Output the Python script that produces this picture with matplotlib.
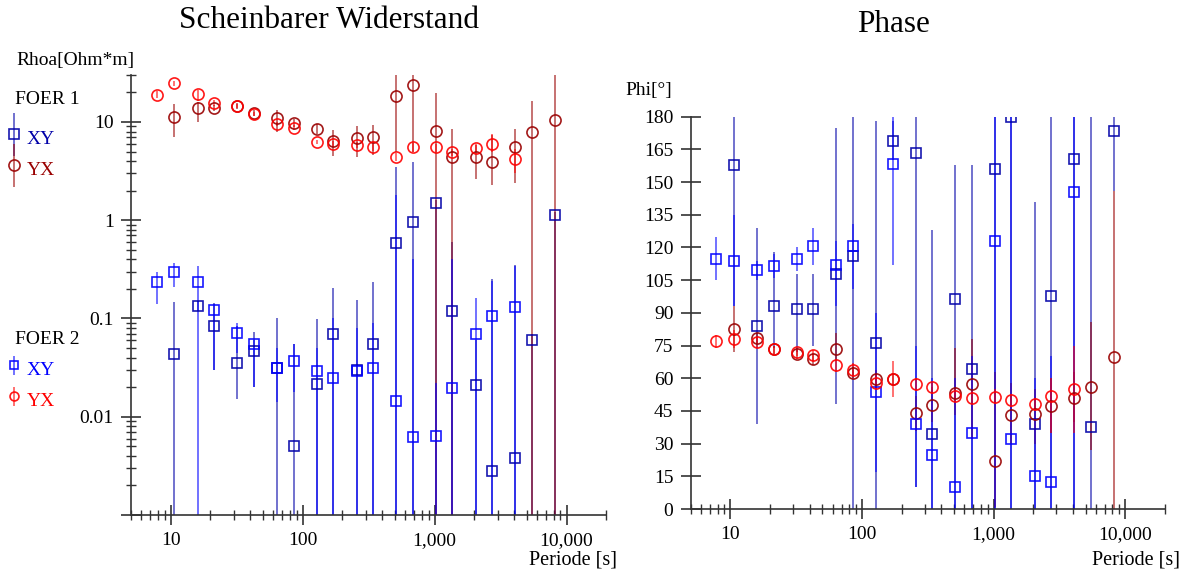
import matplotlib.pyplot as plt
import numpy as np
from matplotlib.ticker import FixedLocator, LogLocator, NullFormatter, FuncFormatter, MultipleLocator
from matplotlib.container import ErrorbarContainer
from matplotlib.legend_handler import HandlerErrorbar

plt.rcParams['font.family'] = ['Liberation Serif', 'DejaVu Serif']

# periods [s]
per1 = [10.67, 16, 21.33, 32, 42.67, 64, 85.33, 128, 170.67, 256, 341.33, 512,
        682.67, 1024, 1365.33, 2048, 2730.67, 4096, 5461.33, 8192]
per2 = [7.81, 10.67, 16, 21.33, 32, 42.67, 64, 85.33, 128, 170.67, 256, 341.33,
        512, 682.67, 1024, 1365.33, 2048, 2730.67, 4096]

# apparent resistivity, FOER 1
rho1_xy = [0.044, 0.133, 0.084, 0.0355, 0.047, 0.031, 0.005, 0.0215, 0.07, 0.03,
           0.055, 0.58, 0.95, 1.5, 0.12, 0.021, 0.0028, 0.0038, 0.061, 1.12]
rho1_xy_lo = [1e-5, 0.12, 0.03, 0.015, 0.02, 1e-5, 1e-5, 1e-5, 1e-5, 1e-5,
              1e-5, 1e-5, 1e-5, 1e-5, 1e-5, 1e-5, 1e-5, 1e-5, 1e-5, 1e-5]
rho1_xy_hi = [0.146, 0.15, 0.145, 0.084, 0.073, 0.1, 0.055, 0.098, 0.204, 0.156,
              0.234, 3.5, 3.9, 1.6, 0.6, 0.06, 0.25, 0.35, 0.07, 1.2]
rho1_yx = [11.2, 13.9, 13.8, 14.5, 12.3, 10.9, 9.7, 8.4, 6.4, 6.8, 7.0, 18.4, 24,
           8.1, 4.45, 4.35, 3.95, 5.5, 7.85, 10.5]
rho1_yx_lo = [7.0, 10.0, 12.8, 13.5, 11.5, 8.0, 8.8, 7.5, 4.5, 4.4, 4.6, 5.0, 5.0,
              1e-5, 1e-5, 2.6, 2.3, 2.4, 1e-5, 1e-5]
rho1_yx_hi = [15.2, 16.0, 14.8, 15.5, 13.2, 13.2, 10.6, 9.5, 8.2, 9.1, 9.3, 40, 40,
              19.6, 8.5, 5.8, 7.4, 8.5, 16.5, 40]

# apparent resistivity, FOER 2
rho2_xy = [0.234, 0.295, 0.234, 0.121, 0.0716, 0.055, 0.031, 0.0366, 0.029, 0.025,
           0.029, 0.031, 0.0145, 0.0062, 0.0063, 0.0195, 0.069, 0.105, 0.13]
rho2_xy_lo = [0.14, 0.21, 1e-5, 0.03, 0.045, 0.02, 0.014, 0.018, 1e-5, 1e-5,
              1e-5, 1e-5, 1e-5, 1e-5, 1e-5, 1e-5, 1e-5, 1e-5, 1e-5]
rho2_xy_hi = [0.3, 0.37, 0.34, 0.14, 0.09, 0.06, 0.05, 0.055, 0.05, 0.1,
              0.08, 0.09, 1.8, 0.4, 0.022, 0.4, 0.16, 0.24, 0.34]
rho2_yx = [18.8, 24.7, 19.2, 15.6, 14.5, 12.0, 9.5, 8.7, 6.3, 6.0, 5.8, 5.5, 4.4,
           5.5, 5.5, 4.9, 5.4, 6.0, 4.2]
rho2_yx_lo = [17.5, 23.5, 16.5, 14.5, 13.8, 11.5, 9.0, 8.2, 6.0, 5.6, 5.4, 5.1, 4.0,
              5.0, 5.0, 4.5, 4.9, 4.9, 3.0]
rho2_yx_hi = [20.5, 26, 21, 16.8, 15.2, 12.6, 10, 9.3, 6.6, 6.4, 6.2, 5.9, 4.8,
              6.1, 6.0, 5.3, 5.9, 7.6, 5.3]

# phase, FOER 1
phi1_xy = [158, 84, 93, 91.6, 91.6, 108, 116, 76, 168.8, 163.2, 34.3, 96.2, 64.4,
           156.2, 179.7, 38.9, 97.8, 160.8, 37.5, 173.4]
phi1_xy_lo = [93, 39, 74, 72, 75, 48, 0, 0, 160, 10, 0, 0, 0, 0, 0, 0, 0, 0, 0, 146]
phi1_xy_hi = [180, 129, 118, 108, 108, 175, 180, 178, 178, 180, 128, 158, 158,
              180, 180, 141, 180, 180, 180, 180]
phi1_yx = [82.6, 78.7, 73.3, 71.1, 68.7, 73.3, 62.3, 59.5, 59.5, 43.9, 47.7, 53.4,
           57.2, 22.0, 43.0, 43.6, 47.3, 51.1, 56.1, 69.9]
phi1_yx_lo = [72, 76, 71, 69, 66, 68, 60, 55, 57, 36, 40, 43, 32, 1, 30, 30, 35,
              40, 27, 0]
phi1_yx_hi = [93, 81, 75, 73, 71, 81, 65, 64, 62, 52, 56, 74, 78, 63, 58, 55, 60,
              63, 86, 146]

# phase, FOER 2
phi2_xy = [114.8, 113.8, 109.5, 111.6, 114.8, 120.8, 111.8, 120.7, 53.8, 158.4,
           38.9, 24.8, 9.9, 34.7, 123.2, 32.0, 15.0, 12.4, 145.6]
phi2_xy_lo = [105, 93, 105, 106, 109, 112, 93, 101, 17, 112, 10, 0, 0, 0, 0, 0, 0,
              0, 0]
phi2_xy_hi = [125, 135, 114, 117, 120, 129, 123, 131, 90, 180, 75, 60, 60, 70,
              180, 180, 60, 70, 180]
phi2_yx = [77.2, 77.9, 76.5, 73.3, 72.2, 70.7, 66.1, 63.8, 58, 59.5, 57.2, 55.8,
           51.8, 51.1, 51.5, 50.0, 48.0, 52.0, 54.9]
phi2_yx_lo = [74, 74, 74, 71, 70, 68, 63, 61, 55, 51.5, 54, 53, 49, 48, 48, 47,
              45, 35, 35]
phi2_yx_hi = [80, 82, 79, 75, 74, 73, 69, 67, 62, 68, 60, 58, 55, 54, 55, 53, 51,
              60, 75]

c1xy = '#0000a8'
c2xy = '#0000ff'
c1yx = '#990000'
c2yx = '#ff0000'
axcol = '#333333'


def draw(ax, x, y, lo, hi, color, marker, ms):
    y = np.array(y)
    lo = np.array(lo)
    hi = np.array(hi)
    eb = ax.errorbar(x, y, yerr=[y - lo, hi - y], fmt=marker, color=color,
                     mfc='none', mec=color, ms=ms, mew=1.2, elinewidth=1.3,
                     capsize=0, ecolor=color)
    eb[2][0].set_alpha(0.6)
    eb[0].set_alpha(0.9)
    return eb


def style(ax):
    for s in ['top', 'right']:
        ax.spines[s].set_visible(False)
    for s in ['left', 'bottom']:
        ax.spines[s].set_color(axcol)
        ax.spines[s].set_linewidth(1.2)
    ax.set_xscale('log')
    ax.set_xlim(5, 20000)
    ax.xaxis.set_major_locator(FixedLocator([10, 100, 1000, 10000]))
    ax.xaxis.set_major_formatter(FuncFormatter(lambda v, p: f'{v:,.0f}'))
    ax.xaxis.set_minor_locator(LogLocator(subs=np.arange(2, 10)))
    ax.xaxis.set_minor_formatter(NullFormatter())
    ax.tick_params(which='major', direction='inout', length=15, width=1.2,
                   color=axcol, labelsize=14)
    ax.tick_params(which='minor', direction='inout', length=7, width=1,
                   color=axcol)
    ax.tick_params(axis='x', pad=5)
    ax.tick_params(axis='y', pad=5)


fig = plt.figure(figsize=(11.91, 5.72), dpi=100)

ax1 = fig.add_axes([0.110, 0.0997, 0.399, 0.769])
style(ax1)
h1xy = draw(ax1, per1, rho1_xy, rho1_xy_lo, rho1_xy_hi, c1xy, 's', 7)
h1yx = draw(ax1, per1, rho1_yx, rho1_yx_lo, rho1_yx_hi, c1yx, 'o', 8)
h2xy = draw(ax1, per2, rho2_xy, rho2_xy_lo, rho2_xy_hi, c2xy, 's', 7)
h2yx = draw(ax1, per2, rho2_yx, rho2_yx_lo, rho2_yx_hi, c2yx, 'o', 8)
ax1.set_yscale('log')
ax1.set_ylim(0.001, 30)
ax1.yaxis.set_major_locator(FixedLocator([0.001, 0.01, 0.1, 1, 10]))
ax1.yaxis.set_major_formatter(FuncFormatter(
    lambda v, p: '' if v < 0.005 else f'{v:g}'))
ax1.yaxis.set_minor_locator(LogLocator(subs=np.arange(2, 10)))
ax1.yaxis.set_minor_formatter(NullFormatter())

ax2 = fig.add_axes([0.580, 0.110, 0.398, 0.686])
style(ax2)
draw(ax2, per1, phi1_xy, phi1_xy_lo, phi1_xy_hi, c1xy, 's', 7)
draw(ax2, per1, phi1_yx, phi1_yx_lo, phi1_yx_hi, c1yx, 'o', 8)
draw(ax2, per2, phi2_xy, phi2_xy_lo, phi2_xy_hi, c2xy, 's', 7)
draw(ax2, per2, phi2_yx, phi2_yx_lo, phi2_yx_hi, c2yx, 'o', 8)
ax2.set_ylim(0, 180)
ax2.yaxis.set_major_locator(MultipleLocator(15))

fig.text(329 / 1191, 1 - 20 / 572, 'Scheinbarer Widerstand', ha='center',
         va='center', fontsize=22.5)
fig.text(894 / 1191, 1 - 25 / 572, 'Phase', ha='center', va='center', fontsize=22.5)
fig.text(16 / 1191, 1 - 60 / 572, 'Rhoa[Ohm*m]', ha='left', va='center', fontsize=14)
fig.text(625 / 1191, 1 - 91 / 572, 'Phi[°]', ha='left', va='center', fontsize=14)
fig.text(573 / 1191, 1 - 560 / 572, 'Periode [s]', ha='center', va='center',
         fontsize=14.5)
fig.text(1136 / 1191, 1 - 560 / 572, 'Periode [s]', ha='center', va='center',
         fontsize=14.5)

for handles, title, cols, ty, top, esz, mscale in [
        ([h1xy, h1yx], 'FOER 1', [c1xy, c1yx], 100, 125, 1.1, 1.0),
        ([h2xy, h2yx], 'FOER 2', [c2xy, c2yx], 340, 356, 0.5, 0.8)]:
    fig.text(15 / 1191, 1 - ty / 572, title, ha='left', va='center', fontsize=14)
    leg = fig.legend(handles, ['XY', 'YX'], loc='upper left',
                     bbox_to_anchor=(8 / 1191, 1 - top / 572), frameon=False,
                     fontsize=14, handlelength=0.6, handleheight=1.6,
                     handletextpad=0.35, labelspacing=0.3, borderpad=0.0,
                     borderaxespad=0.0, markerscale=mscale,
                     handler_map={ErrorbarContainer:
                                  HandlerErrorbar(xerr_size=0.5, yerr_size=esz)})
    for t, c in zip(leg.get_texts(), cols):
        t.set_color(c)

fig.savefig('out.png', dpi=100)
